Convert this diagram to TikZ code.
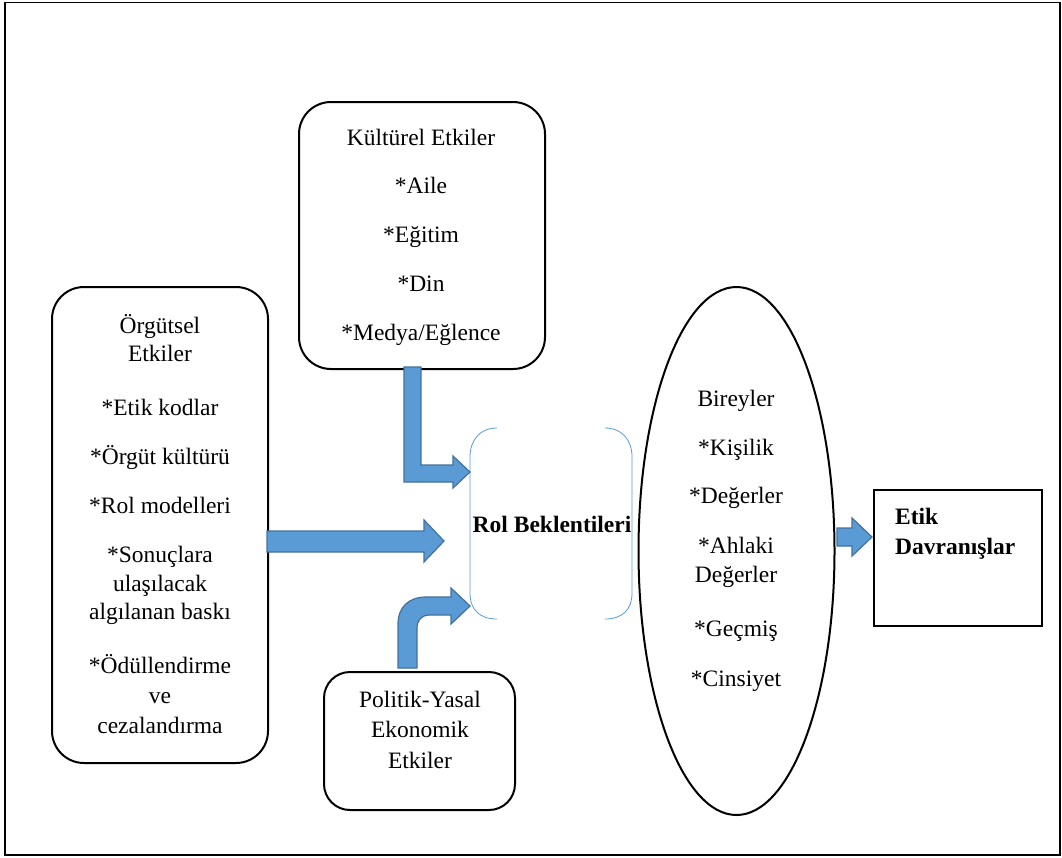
\documentclass[tikz,border=0pt]{standalone}
\usepackage{fontspec}
\setmainfont{Liberation Serif}
\usetikzlibrary{shapes.geometric}
\definecolor{arrfill}{HTML}{5B9BD5}
\definecolor{arrdraw}{HTML}{41719C}
\begin{document}
\begin{tikzpicture}[x=1pt,y=-1pt,
  box/.style={draw,line width=2pt,inner sep=0pt},
  txt/.style={font=\fontsize{23.5}{28.5}\selectfont,align=center,anchor=base,inner sep=0pt},
  btxt/.style={font=\fontsize{23.5}{30}\selectfont\bfseries,inner sep=0pt},
  blk/.style={fill=arrfill,draw=arrdraw,line width=1.2pt,line join=miter},
  brk/.style={draw=arrfill,line width=0.8pt}]
\useasboundingbox (0,0) rectangle (1062,857);
\draw[line width=1.5pt] (5,2.5) rectangle (1060,855);

% shapes
\node[box,rounded corners=32pt,minimum width=246pt,minimum height=267pt] (kul) at (422,235.5) {};
\node[box,rounded corners=32pt,minimum width=216pt,minimum height=476pt] (org) at (160,525) {};
\node[box,rounded corners=26pt,minimum width=191pt,minimum height=138pt] (pol) at (419.5,741) {};
\node[box,ellipse,minimum width=196pt,minimum height=528pt] (bir) at (736.5,551) {};
\node[draw,line width=1.2pt,inner sep=0pt,minimum width=168pt,minimum height=136pt] (etk) at (958,558) {};

% texts (anchor base = baseline of the last line)
\node[txt] (kult) at (421,340) {Kültürel Etkiler\\[20.2pt]*Aile\\[20.2pt]*Eğitim\\[20.2pt]*Din\\[20.2pt]*Medya/Eğlence};
\node[txt] (orgt) at (160,733) {Örgütsel\\[-0.5pt]Etkiler\\[25.5pt]*Etik kodlar\\[20.5pt]*Örgüt kültürü\\[20.5pt]*Rol modelleri\\[20.5pt]*Sonuçlara\\[0.5pt]ulaşılacak\\[-0.5pt]algılanan baskı\\[25.5pt]*Ödüllendirme\\[1.5pt]ve\\[1.5pt]cezalandırma};
\node[txt] (polt) at (420,768) {Politik-Yasal\\[1.5pt]Ekonomik\\[2.5pt]Etkiler};
\node[txt] (birt) at (736,686) {Bireyler\\[20.5pt]*Kişilik\\[19.5pt]*Değerler\\[21.5pt]*Ahlaki\\[0.5pt]Değerler\\[25.5pt]*Geçmiş\\[21.5pt]*Cinsiyet};
\node[btxt,anchor=base] (rol) at (552,532) {Rol Beklentileri};
\node[btxt,anchor=base west,align=left] (etkt) at (895,554) {Etik\\Davranışlar};

% brackets around Rol Beklentileri
\draw[brk] (497,428) .. controls (480,428) and (470,440) .. (470,457) -- (470,593) .. controls (470,610) and (480,619) .. (497,619);
\draw[brk] (605,428) .. controls (622,428) and (632,440) .. (632,457) -- (632,593) .. controls (632,610) and (622,619) .. (605,619);

% block arrows
\draw[blk] (404,367) -- (421,367) -- (421,465) -- (453,465) -- (453,456) -- (470,472) -- (453,488) -- (453,482) -- (404,482) -- cycle;
\draw[blk] (267,531) -- (424,531) -- (424,520) -- (444,541) -- (424,562) -- (424,552) -- (267,552) -- cycle;
\draw[blk] (398,668) -- (398,624) .. controls (398,607) and (409,597) .. (426,597) -- (451,597) -- (451,588) -- (470,606) -- (451,624) -- (451,615) -- (429,615) .. controls (422,615) and (417,620) .. (417,628) -- (417,668) -- cycle;
\draw[blk] (837,528) -- (852,528) -- (852,518) -- (872,537) -- (852,556) -- (852,546) -- (837,546) -- cycle;
\end{tikzpicture}
\end{document}
